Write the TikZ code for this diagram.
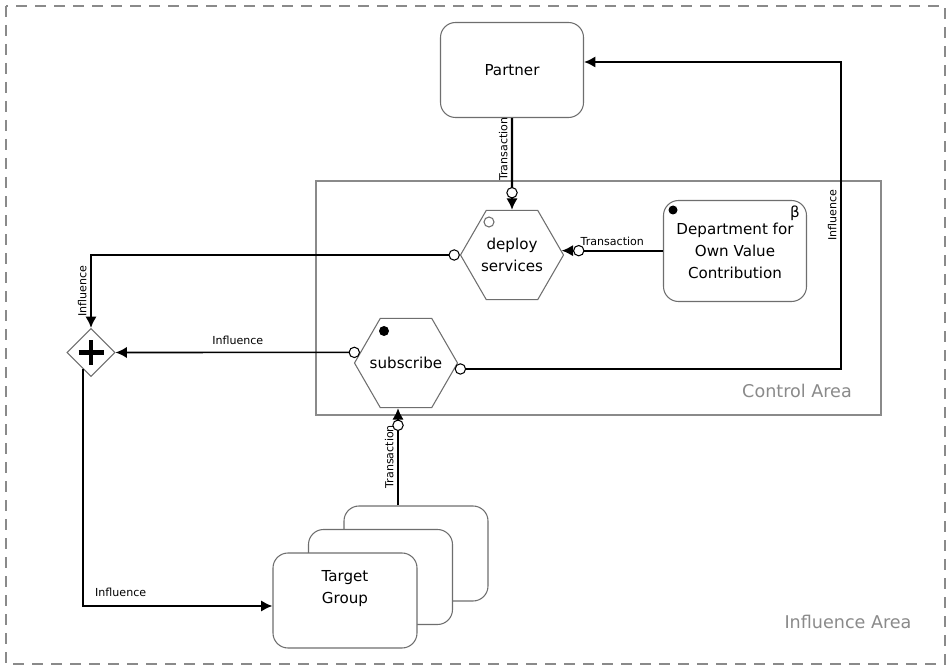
\documentclass[tikz,border=0pt]{standalone}
\usepackage{fontspec}
\setmainfont{DejaVu Sans}
\usetikzlibrary{arrows.meta, positioning, shapes.geometric, calc}
\definecolor{rahmen}{HTML}{8A8A8A}
\definecolor{kante}{HTML}{6E6E6E}
\tikzset{
  every picture/.style={>=Latex},
  actor/.style={draw=kante, line width=0.6pt, fill=white, rounded corners=0.3cm,
                minimum width=2.86cm, minimum height=1.9cm, align=center,
                font=\fontsize{8.6}{12.5}\selectfont},
  activity/.style={draw=kante, line width=0.6pt, fill=white, regular polygon, regular polygon sides=6,
                minimum size=2.06cm, inner sep=0pt, align=center, font=\fontsize{8.6}{12.5}\selectfont},
  gateway/.style={diamond, draw=kante, line width=0.6pt, fill=white, aspect=1,
                minimum width=0.96cm, minimum height=0.96cm, inner sep=0pt},
  area/.style={draw=rahmen, line width=1pt},
  arealabel/.style={text=rahmen, font=\fontsize{10}{12}\selectfont},
  lbl/.style={font=\fontsize{6.3}{7.5}\selectfont, inner sep=2pt},
  fluss/.style={line width=1.2pt},
  trans/.style={fluss, -{Circle[fill=white, line width=0.6pt, length=6.5pt] Latex[length=6.5pt, width=6.5pt]}},
  infl/.style={fluss, {Circle[fill=white, line width=0.6pt, length=6.5pt]}-{Latex[length=6.5pt, width=6.5pt]}},
}

\begin{document}
\begin{tikzpicture}
  \useasboundingbox (0,0) rectangle (19.02,-13.4);
  % areas
  \draw[area, dash pattern=on 0.22cm off 0.16cm] (0.12,-0.12) rectangle (18.9,-13.28);
  \node[arealabel] (inflarea) at (16.96,-12.44) {Influence Area};
  \draw[area] (6.32,-3.62) rectangle (17.62,-8.30);
  \node[arealabel] (ctrlarea) at (15.94,-7.82) {Control Area};

  % actors and activities
  \node[actor] (par) at (10.24,-1.4) {Partner};
  \node[activity] (dep) at (10.24,-5.1) {deploy\\services};
  \node[actor, minimum height=2.02cm] (dept) at (14.70,-5.02) {Department for\\Own Value\\Contribution};
  \node[activity] (sub) at (8.12,-7.26) {\makebox[1cm]{subscribe}};
  \node[gateway] (gw) at (1.82,-7.05) {};
  \foreach \i/\dx/\dy in {3/1.42/0.94, 2/0.71/0.47} {
    \node[actor, minimum width=2.88cm] (tg\i) at (6.90+\dx,-12.01+\dy) {};
  }
  \node[actor, minimum width=2.88cm] (tg) at (6.90,-12.01) {Target\\Group\\[0.12cm]};

  % markers
  \draw[kante, line width=0.6pt, fill=white] ($(dep.center)+(-0.46,0.66)$) circle (0.1);
  \fill ($(sub.center)+(-0.44,0.64)$) circle (0.1);
  \fill ($(dept.center)+(-1.24,0.82)$) circle (0.09);
  \node[font=\fontsize{8.6}{10}\selectfont, inner sep=0pt] (beta) at ($(dept.center)+(1.2,0.76)$) {β};
  \draw[line width=2.5pt] ($(gw.center)+(-0.25,0)$) -- ($(gw.center)+(0.25,0)$)
                          ($(gw.center)+(0,-0.25)$) -- ($(gw.center)+(0,0.25)$);

  % flows
  \coordinate (cnr) at (16.82,-1.24);
  \coordinate (subin) at ([xshift=-0.16cm]sub.south);
  \draw[trans] (par.south) -- (dep.north) node[lbl, pos=0.34, rotate=90, anchor=south] {Transaction};
  \draw[trans] (dept.west |- dep.5) -- (dep.5) node[lbl, midway, above] {Transaction};
  \draw[infl] (dep.west) -| (gw.north) node[lbl, pos=0.75, rotate=90, anchor=south] {Influence};
  \draw[infl, line width=0.9pt] (sub.167) -- (gw.east) node[lbl, midway, above, yshift=2pt] {Influence};
  \draw[infl] (sub.353) -| (cnr) node[lbl, pos=0.75, rotate=90, anchor=south] {Influence} -- (par.east |- cnr);
  \draw[trans] (tg3.north -| subin) -- (subin) node[lbl, midway, rotate=90, anchor=south] {Transaction};
  \draw[fluss, -{Latex[length=6.5pt, width=6.5pt]}] (gw.243) |- ([yshift=-0.11cm]tg.west)
    node[lbl, pos=0.6, above, yshift=3pt] {Influence};
\end{tikzpicture}
\end{document}
